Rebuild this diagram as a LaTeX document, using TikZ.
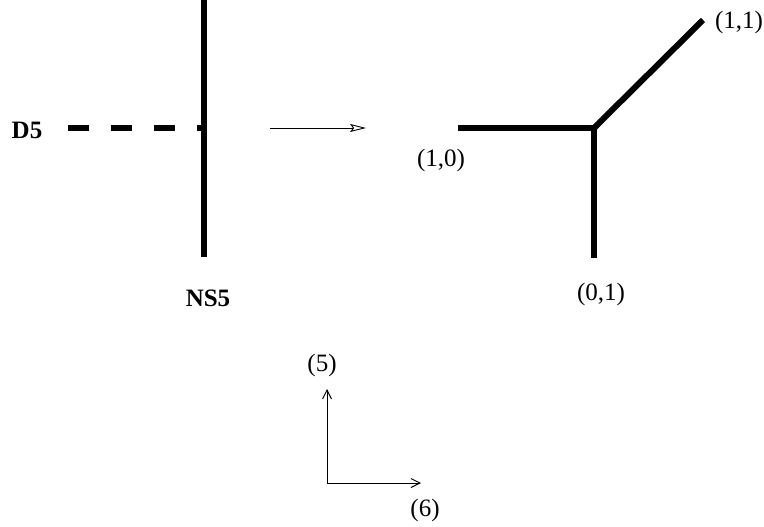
\documentclass[tikz,border=0pt]{standalone}
\usepackage{fontspec}
\setmainfont{Liberation Serif}
\usepackage{tikz}
\usetikzlibrary{positioning,arrows.meta,calc}

\begin{document}
\begin{tikzpicture}[
  x=1pt, y=-1pt,
  lab/.style={inner sep=0pt, font=\fontsize{25}{30}\selectfont},
  blab/.style={lab, font=\fontsize{25}{30}\selectfont\bfseries},
  brane/.style={line width=6pt},
  dbrane/.style={brane, dash pattern=on 21pt off 22pt},
  arr/.style={line width=0.9pt, -{Stealth[open, length=16pt, width=8pt, inset=3pt]}},
  ax/.style={line width=0.9pt, -{Straight Barb[length=9pt, width=9pt]}}
]
\useasboundingbox (0,0) rectangle (764,527);
% left: D5 ending on NS5
\coordinate (nstop) at (204,0);
\coordinate (nsbot) at (204,257);
\coordinate (dleft) at (68,128);
\coordinate (dend) at (204,128);
\draw[brane] (nstop) -- (nsbot);
\draw[dbrane] (dleft) -- (dend);
\node[blab] (d5) at (27,130) {D5};
\node[blab] (ns5) at (208,298) {NS5};
% arrow
\coordinate (afrom) at (270,128);
\coordinate (ato) at (366,128);
\draw[arr] (afrom) -- (ato);
% right: web junction
\coordinate (jct) at (594,128);
\coordinate (wleft) at (458,128);
\coordinate (wup) at (703,20);
\coordinate (wdown) at (594,258);
\draw[brane] (wleft) -- (jct);
\draw[brane] (jct) -- (wup);
\draw[brane] (jct) -- (wdown);
\node[lab] (l11) at (739,22) {(1,1)};
\node[lab] (l10) at (441,160) {(1,0)};
\node[lab] (l01) at (601,294) {(0,1)};
% axes
\coordinate (orig) at (327,483);
\coordinate (y5) at (327,389);
\coordinate (x6) at (421,483);
\draw[ax] (orig) -- (y5);
\draw[ax] (orig) -- (x6);
\node[lab] (a5) at (322,365) {(5)};
\node[lab] (a6) at (425,510) {(6)};
\end{tikzpicture}
\end{document}
